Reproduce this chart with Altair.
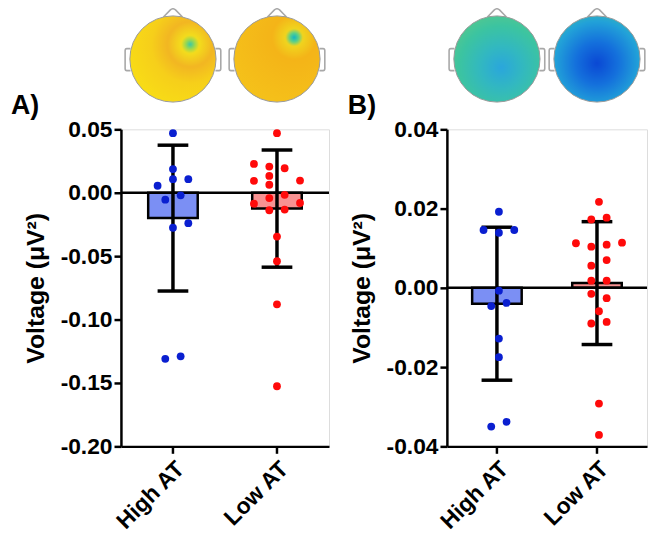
import altair as alt
import pandas as pd

groups = ["High AT", "Low AT"]

# ---- Panel A values (µV²) and swarm column (in dot widths) ----
a_high_vals = [0.047, 0.0187, 0.0107, 0.0107, 0.0055, -0.0055, -0.002, -0.0276, -0.024, -0.131, -0.129]
a_high_dx = [0, 0, 0, 1, -1, -0.5, 0.5, 0, 1, -0.5, 0.5]
a_low_vals = [0.047, 0.0227, 0.0206, 0.0193, 0.0133, 0.0094, 0.0096, 0.0063, -0.0042, -0.0016,
              -0.0086, -0.0081, -0.0138, -0.0133, -0.0346, -0.054, -0.088, -0.1526]
a_low_dx = [0, -1.5, -0.5, 0.5, -0.5, -1.5, 1.5, -0.5, -0.5, 0.5, -1.5, 1.5, -0.5, 0.5, 0, 0, 0, 0]
a_mean = [-0.020, -0.0125]
a_sd = [0.0575, 0.0462]

# ---- Panel B ----
b_high_vals = [0.0192, 0.0146, 0.0146, 0.0139, -0.0007, -0.0046, -0.0038, -0.0128, -0.0175, -0.035, -0.0338]
b_high_dx = [0, -1, 1, 0, 0, -0.5, 0.5, 0, 0, -0.5, 0.5]
b_low_vals = [0.0217, 0.01725, 0.0177, 0.01125, 0.0104, 0.0109, 0.0114, 0.007, 0.0056, 0.0018, 0.0018,
              -0.0015, -0.0026, -0.0059, -0.009, -0.0086, -0.0292, -0.0371]
b_low_dx = [0, -0.5, 0.5, -1.5, -0.5, 0.5, 1.5, 0.5, -0.5, -0.5, 0.5, -0.5, 0.5, 0, -0.5, 0.5, 0, 0]
b_mean = [-0.004, 0.0012]
b_sd = [0.0193, 0.0155]

a_ticks = [-0.20, -0.15, -0.10, -0.05, 0.00, 0.05]
b_ticks = [-0.04, -0.02, 0.00, 0.02, 0.04]

bar_fill = {"High AT": "#7b8ff4", "Low AT": "#f79292"}
dot_col = {"High AT": "#0a1fd0", "Low AT": "#ff0a0a"}

# topographic map stand-ins (radial gradients)
def rg(cx, cy, r, stops):
    return {"gradient": "radial", "x1": cx, "y1": cy, "r1": 0, "x2": cx, "y2": cy, "r2": r,
            "stops": [{"offset": o, "color": c} for o, c in stops]}

heads_a = {
    "High AT": rg(0.7, 0.33, 0.75, [(0, "#38c8a8"), (0.07, "#9ad850"), (0.14, "#f3dc1c"),
                                     (0.35, "#f2b622"), (0.6, "#f6cf1a"), (1, "#f8dc16")]),
    "Low AT": rg(0.7, 0.25, 0.85, [(0, "#10b4c8"), (0.06, "#5cd088"), (0.12, "#f0d41e"),
                                    (0.3, "#f4b418"), (1, "#f5c21a")]),
}
heads_b = {
    "High AT": rg(0.55, 0.6, 0.7, [(0, "#2aa6dc"), (0.35, "#32b8c0"), (0.7, "#3cc4a0"), (1, "#5ac88a")]),
    "Low AT": rg(0.5, 0.55, 0.7, [(0, "#0a48d4"), (0.35, "#1470dc"), (0.7, "#22a2d8"), (1, "#48c49a")]),
}

HEAD_PATH = ("M -0.22 -0.975 L -0.06 -1.14 Q 0 -1.19 0.06 -1.14 L 0.22 -0.975 "
             "M -0.985 -0.24 L -1.07 -0.24 Q -1.11 -0.24 -1.11 -0.19 L -1.11 0.22 Q -1.11 0.27 -1.07 0.27 L -0.985 0.27 "
             "M 0.985 -0.24 L 1.07 -0.24 Q 1.11 -0.24 1.11 -0.19 L 1.11 0.22 Q 1.11 0.27 1.07 0.27 L 0.985 0.27")
HEAD_SIZE = 87 * 87


def panel(high_vals, high_dx, low_vals, low_dx, means, sds, ticks, letter, letter_x, heads, width):
    pts = pd.DataFrame({
        "group": ["High AT"] * len(high_vals) + ["Low AT"] * len(low_vals),
        "v": high_vals + low_vals,
        "dx": high_dx + low_dx,
    })
    summ = pd.DataFrame({"group": groups, "mean": means, "sd": sds})
    ydom = [ticks[0], ticks[-1]]
    xenc = alt.X("group:N", sort=groups, title=None,
                 scale=alt.Scale(paddingInner=0, paddingOuter=0),
                 axis=alt.Axis(labelAngle=-45, labelPadding=4))
    yscale = alt.Scale(domain=ydom, nice=False, zero=False)
    yaxis = alt.Axis(values=ticks, format=".2f", labelExpr="replace(datum.label, '\u2212', '-')",
                     title="Voltage (\u03bcV\u00b2)", titlePadding=12)
    half_band = width / 4.0

    base = alt.Chart(summ)
    bars = base.mark_bar(size=50, stroke="black", strokeWidth=2.5).encode(
        x=xenc,
        y=alt.Y("mean:Q", scale=yscale, axis=yaxis),
        y2=alt.datum(0),
        fill=alt.Color("group:N", scale=alt.Scale(domain=groups, range=[bar_fill[g] for g in groups]), legend=None),
    )
    zero = alt.Chart(pd.DataFrame({"z": [0]})).mark_rule(color="black", strokeWidth=2.5).encode(y="z:Q")
    err = base.transform_calculate(lo="datum.mean - datum.sd", hi="datum.mean + datum.sd")
    err_rule = err.mark_rule(color="black", strokeWidth=3.5).encode(x=xenc, y="lo:Q", y2="hi:Q")
    cap_lo = err.mark_tick(color="black", size=31, thickness=3.5, opacity=1).encode(x=xenc, y="lo:Q")
    cap_hi = err.mark_tick(color="black", size=31, thickness=3.5, opacity=1).encode(x=xenc, y="hi:Q")
    dots = alt.Chart(pts).mark_circle(size=62, opacity=1).encode(
        x=xenc,
        xOffset=alt.XOffset("dx:Q", scale=alt.Scale(domain=[-1, 1], range=[half_band - 15.5, half_band + 15.5])),
        y="v:Q",
        color=alt.Color("group:N", scale=alt.Scale(domain=groups, range=[dot_col[g] for g in groups]), legend=None),
    )
    hdf = pd.DataFrame({"group": groups})
    head_layers = []
    outline = alt.Chart(hdf).mark_point(shape=HEAD_PATH, size=HEAD_SIZE, filled=False, stroke="#a8a8a8",
                                        strokeWidth=1.6, opacity=1).encode(x=xenc, y=alt.value(-71))
    head_layers.append(outline)
    for g in groups:
        head_layers.append(
            alt.Chart(hdf).transform_filter(alt.datum.group == g)
            .mark_circle(size=HEAD_SIZE, fill=heads[g], stroke="#9a9a9a", strokeWidth=1, opacity=1)
            .encode(x=xenc, y=alt.value(-71))
        )
    label = alt.Chart(pd.DataFrame({"t": [letter]})).mark_text(
        fontSize=27, fontWeight="bold", align="left", baseline="alphabetic", color="black"
    ).encode(text="t:N", x=alt.value(letter_x), y=alt.value(-15))

    return alt.layer(bars, zero, err_rule, cap_lo, cap_hi, dots, *head_layers, label).properties(
        width=width, height=320
    )


pa = panel(a_high_vals, a_high_dx, a_low_vals, a_low_dx, a_mean, a_sd, a_ticks, "A)", -111, heads_a, 210)
pb = panel(b_high_vals, b_high_dx, b_low_vals, b_low_dx, b_mean, b_sd, b_ticks, "B)", -100, heads_b, 202)

chart = alt.hconcat(pa, pb, spacing=16).properties(
    padding={"left": 2, "top": -6, "right": 0, "bottom": 0}
).configure_view(stroke=None).configure(
    font="Liberation Sans"
).configure_axis(
    grid=False,
    domainColor="black", domainWidth=2.5,
    tickColor="black", tickWidth=2.5, tickSize=7,
    labelFont="Liberation Sans", labelFontSize=23, labelFontWeight="bold", labelColor="black",
    titleFont="Liberation Sans", titleFontSize=25, titleFontWeight="bold", titleColor="black",
    labelPadding=2,
)

chart.save("out.html", embed_options={"renderer": "svg", "actions": False})
